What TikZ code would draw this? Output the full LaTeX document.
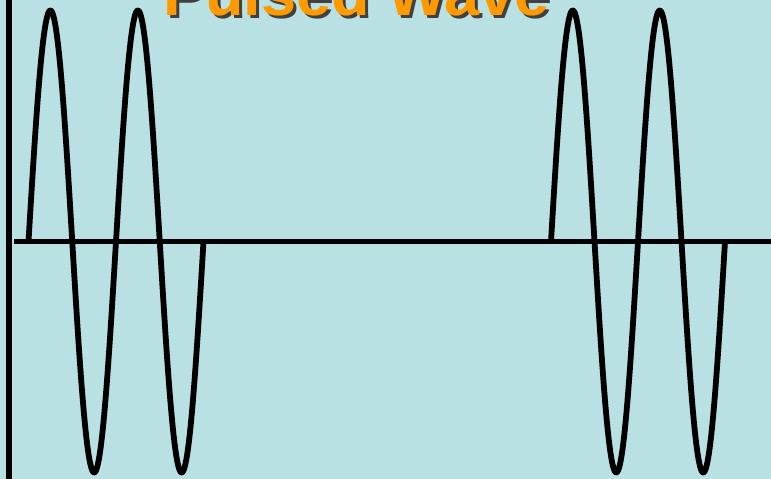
\documentclass[tikz,border=0pt]{standalone}
\usepackage{fontspec}
\setmainfont{Liberation Sans}
\definecolor{bgc}{HTML}{B9E0E3}
\definecolor{titleorange}{HTML}{FF9900}
\tikzset{
  wave/.style={line width=5.8pt, line join=round},
  axis/.style={line width=5.5pt},
  titletext/.style={font=\fontsize{63}{63}\selectfont\bfseries, inner sep=0pt, anchor=base west}
}
\begin{document}
\begin{tikzpicture}[x=1pt,y=-1pt]
\fill[bgc] (0,0) rectangle (771,479);
\useasboundingbox (0,0) rectangle (771,479);
% title with shadow
\node[titletext, text=black!75] (titleshadow) at (166,19) {Pulsed Wave};
\node[titletext, text=titleorange] (title) at (163,16) {Pulsed Wave};
% axes
\coordinate (vtop) at (9,0);
\coordinate (vbot) at (9,479);
\coordinate (hl) at (14,241.5);
\coordinate (hr) at (771,241.5);
\draw[axis] (vtop) -- (vbot);
\draw[axis] (hl) -- (hr);
% waves (t in degrees)
\draw[wave] plot[domain=0:720, samples=300, variable=\t] ({28.5 + \t/360*87.5}, {241.5 - 231*sin(\t)});
\draw[wave] plot[domain=0:720, samples=300, variable=\t] ({551 + \t/360*87}, {241.5 - 231*sin(\t)});
\end{tikzpicture}
\end{document}
